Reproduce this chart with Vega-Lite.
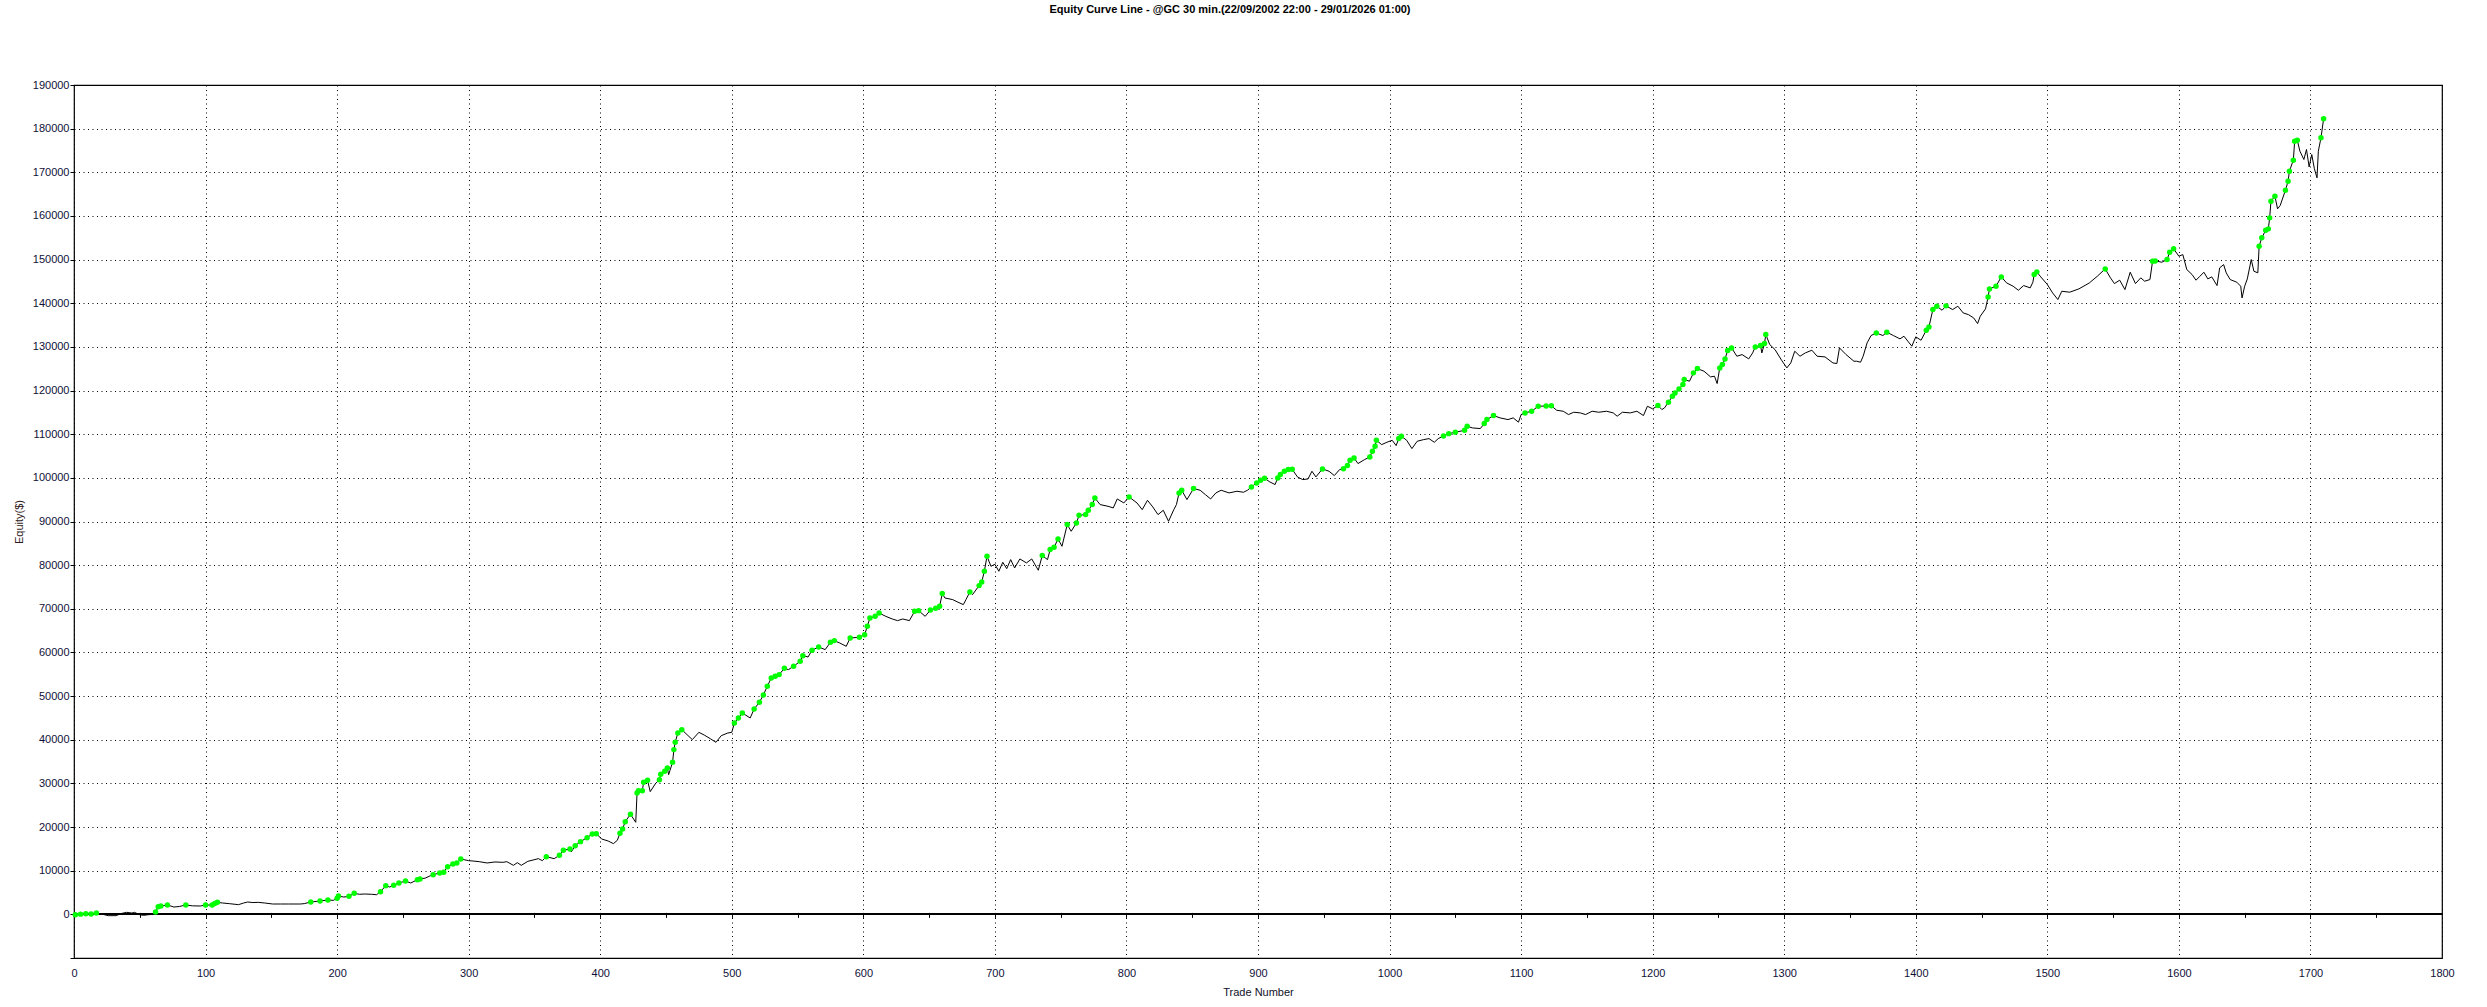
{
"$schema": "https://vega.github.io/schema/vega-lite/v6.json",
"width": 2368,
"height": 873,
"autosize": {"type": "none"},
"padding": {"left": 74, "top": 85, "right": 45, "bottom": 49},
"background": "white",
"config": {"view": {"stroke": "black", "strokeWidth": 1.2}, "font": "Liberation Sans"},
"title": {"text": "Equity Curve Line - @GC 30 min.(22/09/2002 22:00 - 29/01/2026 01:00)", "fontSize": 11, "fontWeight": "bold", "color": "#000000", "anchor": "middle", "baseline": "bottom", "offset": 53, "dx": -28},
"data": {"values": [
{"t":1,"e":-100,"h":1},{"t":5,"e":50,"h":1},{"t":9,"e":150,"h":1},{"t":13,"e":100,"h":1},{"t":17,"e":300,"h":1},{"t":20,"e":150,"h":0},{"t":26,"e":-300,"h":0},{"t":32,"e":-300,"h":0},{"t":36,"e":200,"h":0},{"t":40,"e":460,"h":0},{"t":44,"e":300,"h":0},{"t":46,"e":460,"h":0},{"t":50,"e":-100,"h":0},{"t":53,"e":-230,"h":0},{"t":56,"e":-100,"h":0},{"t":60,"e":0,"h":0},
{"t":62,"e":540,"h":1},{"t":64,"e":1760,"h":1},{"t":66,"e":1900,"h":1},{"t":71,"e":2140,"h":1},{"t":76,"e":1680,"h":0},{"t":80,"e":1800,"h":0},{"t":85,"e":2140,"h":1},{"t":90,"e":1950,"h":0},{"t":96,"e":1910,"h":0},{"t":100,"e":2140,"h":1},{"t":105,"e":2140,"h":1},{"t":107,"e":2500,"h":1},{"t":109,"e":2750,"h":1},{"t":113,"e":2600,"h":0},{"t":118,"e":2450,"h":0},{"t":125,"e":2220,"h":0},{"t":129,"e":2600,"h":0},{"t":132,"e":2830,"h":0},{"t":136,"e":2700,"h":0},{"t":140,"e":2750,"h":0},{"t":145,"e":2600,"h":0},{"t":151,"e":2370,"h":0},{"t":157,"e":2370,"h":0},{"t":163,"e":2370,"h":0},{"t":168,"e":2370,"h":0},{"t":172,"e":2370,"h":0},{"t":175,"e":2450,"h":0},
{"t":180,"e":2830,"h":1},{"t":187,"e":3060,"h":1},{"t":193,"e":3290,"h":1},{"t":197,"e":3200,"h":0},{"t":200,"e":3670,"h":1},{"t":201,"e":4200,"h":1},{"t":205,"e":3970,"h":0},{"t":209,"e":4130,"h":1},{"t":213,"e":4810,"h":1},{"t":217,"e":4600,"h":0},{"t":221,"e":4660,"h":0},{"t":226,"e":4600,"h":0},{"t":230,"e":4500,"h":0},{"t":233,"e":5190,"h":1},{"t":237,"e":6570,"h":1},{"t":240,"e":6260,"h":0},{"t":243,"e":6650,"h":1},{"t":247,"e":7180,"h":1},{"t":252,"e":7640,"h":1},{"t":256,"e":7180,"h":0},{"t":261,"e":7950,"h":1},{"t":263,"e":8100,"h":1},{"t":267,"e":8300,"h":0},{"t":271,"e":8860,"h":0},{"t":273,"e":9090,"h":1},{"t":278,"e":9470,"h":1},{"t":281,"e":9630,"h":1},{"t":284,"e":10930,"h":1},{"t":288,"e":11540,"h":1},{"t":291,"e":11770,"h":1},{"t":294,"e":12680,"h":1},
{"t":300,"e":12300,"h":0},{"t":304,"e":12200,"h":0},{"t":308,"e":12070,"h":0},{"t":314,"e":11770,"h":0},{"t":320,"e":12000,"h":0},{"t":326,"e":11920,"h":0},{"t":329,"e":12070,"h":0},{"t":334,"e":11230,"h":0},{"t":337,"e":11840,"h":0},{"t":340,"e":11230,"h":0},{"t":345,"e":12150,"h":0},{"t":349,"e":12450,"h":0},{"t":353,"e":12760,"h":0},{"t":356,"e":12300,"h":0},{"t":359,"e":13220,"h":1},{"t":365,"e":12760,"h":0},{"t":369,"e":13520,"h":1},{"t":372,"e":14670,"h":1},{"t":377,"e":14970,"h":1},{"t":378,"e":14290,"h":0},{"t":381,"e":15740,"h":1},{"t":385,"e":16660,"h":1},{"t":390,"e":17570,"h":1},{"t":394,"e":18410,"h":1},{"t":397,"e":18490,"h":1},{"t":401,"e":17270,"h":0},{"t":406,"e":16810,"h":0},{"t":410,"e":16200,"h":0},{"t":413,"e":16960,"h":0},{"t":415,"e":18570,"h":1},{"t":417,"e":19560,"h":1},{"t":419,"e":21240,"h":1},{"t":423,"e":22920,"h":1},{"t":427,"e":21090,"h":0},{"t":428,"e":27810,"h":1},{"t":429,"e":28340,"h":1},{"t":432,"e":28340,"h":1},{"t":433,"e":30250,"h":1},{"t":436,"e":30710,"h":1},{"t":438,"e":28110,"h":0},{"t":442,"e":29950,"h":0},{"t":445,"e":30860,"h":1},{"t":446,"e":32090,"h":1},{"t":449,"e":32770,"h":1},{"t":451,"e":33530,"h":1},{"t":452,"e":32010,"h":0},{"t":455,"e":34830,"h":1},{"t":456,"e":37740,"h":1},
{"t":457,"e":39410,"h":1},{"t":459,"e":41550,"h":1},{"t":462,"e":42310,"h":1},{"t":466,"e":41170,"h":0},{"t":470,"e":40020,"h":0},{"t":475,"e":41700,"h":0},{"t":479,"e":41090,"h":0},{"t":484,"e":40180,"h":0},{"t":488,"e":39410,"h":0},{"t":492,"e":40940,"h":0},{"t":497,"e":41550,"h":0},{"t":500,"e":41700,"h":0},{"t":502,"e":43840,"h":1},{"t":505,"e":44990,"h":1},{"t":508,"e":46130,"h":1},{"t":514,"e":44990,"h":0},{"t":517,"e":47050,"h":1},{"t":521,"e":48580,"h":1},{"t":524,"e":50260,"h":1},{"t":527,"e":52240,"h":1},{"t":530,"e":54150,"h":1},{"t":533,"e":54530,"h":1},{"t":536,"e":54920,"h":1},{"t":540,"e":56370,"h":1},{"t":543,"e":56060,"h":0},{"t":547,"e":56830,"h":1},{"t":552,"e":57970,"h":1},{"t":554,"e":59270,"h":1},{"t":558,"e":58960,"h":0},{"t":561,"e":60490,"h":1},{"t":566,"e":61260,"h":1},{"t":571,"e":60650,"h":0},{"t":575,"e":62330,"h":1},{"t":578,"e":62710,"h":1},{"t":582,"e":62170,"h":0},{"t":587,"e":61410,"h":0},{"t":590,"e":63320,"h":1},{"t":597,"e":63470,"h":1},{"t":601,"e":64080,"h":1},{"t":603,"e":65990,"h":1},{"t":605,"e":67900,"h":1},{"t":609,"e":68280,"h":1},{"t":612,"e":69040,"h":1},
{"t":617,"e":68280,"h":0},{"t":622,"e":67670,"h":0},{"t":626,"e":67290,"h":0},{"t":630,"e":67670,"h":0},{"t":635,"e":67290,"h":0},{"t":639,"e":69430,"h":1},{"t":642,"e":69580,"h":1},{"t":647,"e":68280,"h":0},{"t":651,"e":69700,"h":1},{"t":655,"e":70110,"h":1},{"t":658,"e":70570,"h":1},{"t":660,"e":73480,"h":1},{"t":662,"e":72480,"h":0},{"t":668,"e":72100,"h":0},{"t":672,"e":71500,"h":0},{"t":676,"e":70960,"h":0},{"t":678,"e":72100,"h":0},{"t":681,"e":73860,"h":1},{"t":683,"e":73250,"h":0},{"t":688,"e":75310,"h":1},{"t":690,"e":76150,"h":1},{"t":692,"e":78600,"h":1},{"t":694,"e":82030,"h":1},{"t":697,"e":79740,"h":0},{"t":700,"e":80200,"h":0},{"t":703,"e":78600,"h":0},{"t":706,"e":80660,"h":0},{"t":709,"e":79200,"h":0},{"t":712,"e":81270,"h":0},{"t":715,"e":79360,"h":0},{"t":719,"e":81420,"h":0},{"t":724,"e":80510,"h":0},{"t":728,"e":81420,"h":0},{"t":733,"e":78830,"h":0},{"t":736,"e":82190,"h":1},{"t":740,"e":81270,"h":0},{"t":742,"e":83560,"h":1},{"t":745,"e":84090,"h":1},{"t":748,"e":86000,"h":1},{"t":751,"e":84320,"h":0},{"t":755,"e":89290,"h":1},{"t":758,"e":87760,"h":0},{"t":762,"e":89670,"h":1},{"t":764,"e":91430,"h":1},{"t":769,"e":91580,"h":1},{"t":771,"e":92570,"h":1},{"t":774,"e":93870,"h":1},{"t":776,"e":95400,"h":1},
{"t":780,"e":93870,"h":0},{"t":786,"e":93490,"h":0},{"t":790,"e":93110,"h":0},{"t":793,"e":95170,"h":0},{"t":798,"e":94250,"h":0},{"t":802,"e":95630,"h":1},{"t":808,"e":94250,"h":0},{"t":812,"e":92720,"h":0},{"t":816,"e":94860,"h":0},{"t":820,"e":93340,"h":0},{"t":824,"e":91580,"h":0},{"t":828,"e":92570,"h":0},{"t":832,"e":90050,"h":0},{"t":836,"e":92720,"h":0},{"t":838,"e":93870,"h":0},{"t":840,"e":96550,"h":1},{"t":842,"e":97160,"h":1},{"t":846,"e":95020,"h":0},{"t":851,"e":97540,"h":1},{"t":856,"e":97160,"h":0},{"t":860,"e":96160,"h":0},{"t":864,"e":95170,"h":0},{"t":868,"e":96550,"h":0},{"t":872,"e":97160,"h":0},{"t":878,"e":96550,"h":0},{"t":884,"e":96930,"h":0},{"t":889,"e":96700,"h":0},{"t":892,"e":97160,"h":0},{"t":895,"e":97920,"h":1},{"t":899,"e":98840,"h":1},{"t":902,"e":99450,"h":1},{"t":905,"e":99900,"h":1},
{"t":909,"e":99060,"h":0},{"t":913,"e":98460,"h":0},{"t":915,"e":99990,"h":1},{"t":917,"e":100750,"h":1},{"t":920,"e":101510,"h":1},{"t":923,"e":101890,"h":1},{"t":926,"e":101950,"h":1},{"t":930,"e":100210,"h":0},{"t":934,"e":99600,"h":0},{"t":938,"e":99750,"h":0},{"t":941,"e":101510,"h":0},{"t":944,"e":100210,"h":0},{"t":949,"e":102050,"h":1},{"t":954,"e":101510,"h":0},{"t":958,"e":100520,"h":0},{"t":962,"e":101890,"h":0},{"t":965,"e":102100,"h":1},{"t":968,"e":102810,"h":1},{"t":970,"e":104030,"h":1},{"t":973,"e":104560,"h":1},{"t":976,"e":103270,"h":0},{"t":981,"e":104180,"h":0},{"t":985,"e":104800,"h":1},{"t":987,"e":106090,"h":1},{"t":989,"e":107240,"h":1},{"t":990,"e":108610,"h":1},{"t":994,"e":107620,"h":0},{"t":998,"e":108150,"h":0},{"t":1002,"e":108610,"h":0},{"t":1005,"e":107390,"h":0},{"t":1007,"e":108990,"h":1},{"t":1009,"e":109530,"h":1},{"t":1013,"e":108610,"h":0},{"t":1017,"e":106700,"h":0},{"t":1021,"e":108380,"h":0},{"t":1026,"e":108770,"h":0},{"t":1030,"e":108990,"h":0},{"t":1034,"e":108150,"h":0},{"t":1037,"e":108990,"h":0},{"t":1041,"e":109600,"h":1},{"t":1045,"e":110130,"h":1},{"t":1050,"e":110440,"h":1},{"t":1057,"e":110900,"h":1},{"t":1059,"e":111820,"h":1},{"t":1063,"e":111440,"h":0},{"t":1069,"e":111290,"h":0},{"t":1072,"e":112440,"h":1},{"t":1074,"e":113350,"h":1},{"t":1079,"e":114270,"h":1},{"t":1084,"e":113740,"h":0},{"t":1090,"e":113350,"h":0},{"t":1094,"e":113740,"h":0},{"t":1098,"e":112750,"h":0},{"t":1100,"e":114500,"h":0},{"t":1103,"e":114880,"h":1},{"t":1108,"e":115260,"h":1},{"t":1113,"e":116410,"h":1},{"t":1119,"e":116460,"h":1},{"t":1123,"e":116500,"h":1},
{"t":1127,"e":115490,"h":0},{"t":1132,"e":115260,"h":0},{"t":1136,"e":114500,"h":0},{"t":1140,"e":115030,"h":0},{"t":1145,"e":114880,"h":0},{"t":1149,"e":114500,"h":0},{"t":1154,"e":115260,"h":0},{"t":1159,"e":115030,"h":0},{"t":1165,"e":115260,"h":0},{"t":1170,"e":114880,"h":0},{"t":1173,"e":114120,"h":0},{"t":1177,"e":115030,"h":0},{"t":1183,"e":114880,"h":0},{"t":1188,"e":115260,"h":0},{"t":1193,"e":114270,"h":0},{"t":1196,"e":116410,"h":0},{"t":1200,"e":115800,"h":0},{"t":1204,"e":116560,"h":1},{"t":1207,"e":115640,"h":0},{"t":1209,"e":116030,"h":0},{"t":1212,"e":117320,"h":1},{"t":1215,"e":118700,"h":1},{"t":1217,"e":119460,"h":1},{"t":1220,"e":120380,"h":1},{"t":1223,"e":121370,"h":1},{"t":1224,"e":122520,"h":1},{"t":1228,"e":122140,"h":0},{"t":1231,"e":124050,"h":1},{"t":1234,"e":125030,"h":1},{"t":1239,"e":124430,"h":0},{"t":1244,"e":123130,"h":0},{"t":1247,"e":123280,"h":0},{"t":1249,"e":121600,"h":0},{"t":1251,"e":125190,"h":1},{"t":1253,"e":125950,"h":1},{"t":1255,"e":127250,"h":1},{"t":1257,"e":129160,"h":1},{"t":1260,"e":129770,"h":1},{"t":1264,"e":127860,"h":0},{"t":1268,"e":128240,"h":0},{"t":1273,"e":127250,"h":0},{"t":1276,"e":128620,"h":0},{"t":1278,"e":130000,"h":1},{"t":1282,"e":130310,"h":1},{"t":1283,"e":128620,"h":0},{"t":1285,"e":130770,"h":1},{"t":1286,"e":132830,"h":1},{"t":1289,"e":130530,"h":0},{"t":1293,"e":129390,"h":0},{"t":1298,"e":126940,"h":0},{"t":1302,"e":125190,"h":0},{"t":1305,"e":126330,"h":0},{"t":1308,"e":129010,"h":0},{"t":1312,"e":127860,"h":0},{"t":1316,"e":128620,"h":0},{"t":1321,"e":129240,"h":0},{"t":1325,"e":127860,"h":0},{"t":1331,"e":127710,"h":0},{"t":1337,"e":126330,"h":0},{"t":1340,"e":126180,"h":0},{"t":1342,"e":129770,"h":0},{"t":1347,"e":128240,"h":0},{"t":1353,"e":126710,"h":0},
{"t":1355,"e":126720,"h":0},{"t":1358,"e":126490,"h":0},{"t":1360,"e":127860,"h":0},{"t":1363,"e":130920,"h":0},{"t":1366,"e":132600,"h":0},{"t":1370,"e":133210,"h":1},{"t":1375,"e":132600,"h":0},{"t":1378,"e":133360,"h":1},{"t":1383,"e":132600,"h":0},{"t":1388,"e":131840,"h":0},{"t":1391,"e":132450,"h":0},{"t":1394,"e":131300,"h":0},{"t":1397,"e":130160,"h":0},{"t":1400,"e":132300,"h":0},{"t":1404,"e":131530,"h":0},{"t":1408,"e":133820,"h":1},{"t":1410,"e":134580,"h":1},{"t":1413,"e":138550,"h":1},{"t":1416,"e":139320,"h":1},{"t":1420,"e":138400,"h":0},{"t":1423,"e":139400,"h":1},{"t":1428,"e":138550,"h":0},{"t":1432,"e":139320,"h":0},{"t":1436,"e":137790,"h":0},{"t":1440,"e":137400,"h":0},{"t":1444,"e":136640,"h":0},{"t":1447,"e":135340,"h":0},{"t":1449,"e":137020,"h":0},{"t":1453,"e":138710,"h":0},{"t":1455,"e":141450,"h":1},{"t":1456,"e":143290,"h":1},{"t":1461,"e":143900,"h":1},{"t":1465,"e":146040,"h":1},{"t":1469,"e":144670,"h":0},{"t":1474,"e":143900,"h":0},{"t":1478,"e":142980,"h":0},{"t":1482,"e":144050,"h":0},{"t":1487,"e":143520,"h":0},{"t":1489,"e":144820,"h":0},{"t":1490,"e":146580,"h":1},{"t":1492,"e":147190,"h":1},{"t":1495,"e":146040,"h":0},{"t":1500,"e":144290,"h":0},{"t":1504,"e":142370,"h":0},{"t":1508,"e":140850,"h":0},{"t":1511,"e":142750,"h":0},{"t":1517,"e":142530,"h":0},{"t":1524,"e":143290,"h":0},{"t":1532,"e":144670,"h":0},{"t":1538,"e":146190,"h":0},{"t":1544,"e":147870,"h":1},{"t":1548,"e":145810,"h":0},{"t":1551,"e":144510,"h":0},{"t":1555,"e":145280,"h":0},{"t":1559,"e":143130,"h":0},{"t":1563,"e":147110,"h":0},{"t":1567,"e":144510,"h":0},{"t":1571,"e":145810,"h":0},{"t":1574,"e":145050,"h":0},{"t":1578,"e":145430,"h":0},{"t":1580,"e":149630,"h":1},{"t":1582,"e":149700,"h":1},{"t":1587,"e":149400,"h":0},{"t":1591,"e":150010,"h":1},{"t":1593,"e":151690,"h":1},{"t":1596,"e":152460,"h":1},
{"t":1600,"e":150780,"h":0},{"t":1603,"e":151150,"h":0},{"t":1606,"e":147720,"h":0},{"t":1610,"e":146580,"h":0},{"t":1613,"e":145280,"h":0},{"t":1616,"e":146190,"h":0},{"t":1619,"e":147110,"h":0},{"t":1622,"e":145580,"h":0},{"t":1625,"e":146040,"h":0},{"t":1629,"e":144050,"h":0},{"t":1631,"e":148100,"h":0},{"t":1634,"e":148860,"h":0},{"t":1636,"e":146960,"h":0},{"t":1639,"e":145430,"h":0},{"t":1644,"e":144820,"h":0},{"t":1647,"e":143900,"h":0},{"t":1648,"e":141220,"h":0},{"t":1650,"e":143900,"h":0},{"t":1652,"e":145580,"h":0},{"t":1655,"e":150010,"h":0},{"t":1657,"e":147340,"h":0},{"t":1660,"e":146960,"h":0},{"t":1661,"e":153070,"h":1},{"t":1663,"e":154980,"h":1},{"t":1666,"e":156740,"h":1},{"t":1668,"e":157040,"h":1},{"t":1669,"e":159560,"h":1},{"t":1670,"e":163380,"h":1},{"t":1673,"e":164530,"h":1},{"t":1675,"e":161630,"h":0},{"t":1677,"e":162390,"h":0},{"t":1681,"e":165900,"h":1},{"t":1683,"e":167960,"h":1},{"t":1684,"e":170260,"h":1},{"t":1687,"e":172780,"h":1},{"t":1688,"e":177130,"h":1},{"t":1690,"e":177360,"h":1},{"t":1692,"e":174840,"h":0},{"t":1695,"e":172930,"h":0},{"t":1697,"e":175220,"h":0},{"t":1699,"e":171250,"h":0},{"t":1701,"e":174070,"h":0},{"t":1703,"e":170800,"h":0},{"t":1705,"e":168730,"h":0},{"t":1706,"e":174840,"h":0},{"t":1708,"e":177900,"h":1},{"t":1710,"e":182250,"h":1}
]},
"resolve": {"axis": {"x": "independent"}},
"layer": [
{
"mark": {"type": "line", "color": "black", "strokeWidth": 1},
"encoding": {
"x": {"field": "t", "type": "quantitative", "scale": {"domain": [0, 1800], "nice": false, "zero": false},
 "axis": {"values": [0,100,200,300,400,500,600,700,800,900,1000,1100,1200,1300,1400,1500,1600,1700,1800], "format": "d", "title": "Trade Number", "titleFont": "Liberation Sans", "titleFontSize": 11, "titleFontWeight": "normal", "titleColor": "#101028", "titlePadding": 8, "labelFont": "Liberation Sans", "labelFontSize": 11, "labelColor": "#101038", "labelPadding": 9, "labelFlush": false, "ticks": false, "domain": false, "grid": true, "gridColor": "black", "gridDash": [1, 3.5], "gridWidth": 1, "gridOpacity": 1}},
"y": {"field": "e", "type": "quantitative", "scale": {"domain": [-10000, 190000], "nice": false, "zero": false},
 "axis": {"values": [-10000,-5000,0,5000,10000,15000,20000,25000,30000,35000,40000,45000,50000,55000,60000,65000,70000,75000,80000,85000,90000,95000,100000,105000,110000,115000,120000,125000,130000,135000,140000,145000,150000,155000,160000,165000,170000,175000,180000,185000,190000],
 "labelExpr": "(datum.value % 10000 === 0 && datum.value >= 0) ? format(datum.value, 'd') : ''",
 "title": "Equity($)", "titleFont": "Liberation Sans", "titleFontSize": 11, "titleFontWeight": "normal", "titleColor": "#301818", "titlePadding": 8,
 "labelFont": "Liberation Sans", "labelFontSize": 11, "labelColor": "#101038", "labelPadding": 1, "labelFlush": false,
 "ticks": true, "tickSize": 4, "tickColor": "black", "tickWidth": 1, "domain": false,
 "grid": true, "gridColor": "black", "gridDash": [1, 3.5], "gridWidth": 1,
 "gridOpacity": {"condition": {"test": "datum.value % 10000 === 0 && datum.value > -10000", "value": 1}, "value": 0}}}
}
},
{
"mark": {"type": "rule", "color": "black", "strokeWidth": 1},
"encoding": {"y": {"datum": 0, "type": "quantitative"}}
},
{
"transform": [{"filter": "datum.h == 1"}],
"mark": {"type": "circle", "color": "#00ff00", "size": 30, "opacity": 1},
"encoding": {
"x": {"field": "t", "type": "quantitative",
 "axis": {"orient": "bottom", "offset": -45.6, "values": [50,100,150,200,250,300,350,400,450,500,550,600,650,700,750,800,850,900,950,1000,1050,1100,1150,1200,1250,1300,1350,1400,1450,1500,1550,1600,1650,1700,1750], "labels": false, "title": null, "domain": false, "grid": false, "ticks": true, "tickSize": 5, "tickColor": "black", "tickWidth": 1}},
"y": {"field": "e", "type": "quantitative"}
}
}
]
}
